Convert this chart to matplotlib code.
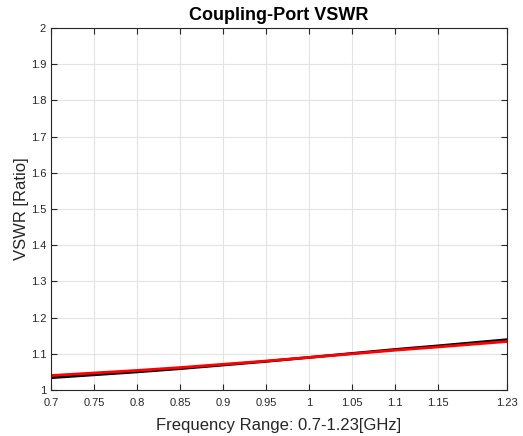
import matplotlib
matplotlib.use("Agg")
import matplotlib.pyplot as plt

plt.rcParams['font.family'] = ['Liberation Sans', 'DejaVu Sans']

freq = [0.7, 0.75, 0.8, 0.85, 0.9, 0.95, 1.0, 1.05, 1.1, 1.15, 1.23]
vswr_black = [1.034, 1.042, 1.050, 1.059, 1.069, 1.079, 1.090, 1.101, 1.112, 1.122, 1.139]
vswr_red = [1.040, 1.047, 1.054, 1.062, 1.071, 1.080, 1.090, 1.100, 1.110, 1.119, 1.134]
xticks = [0.7, 0.75, 0.8, 0.85, 0.9, 0.95, 1.0, 1.05, 1.1, 1.15, 1.23]
xticklabels = ['0.7', '0.75', '0.8', '0.85', '0.9', '0.95', '1', '1.05', '1.1', '1.15', '1.23']
yticks = [1, 1.1, 1.2, 1.3, 1.4, 1.5, 1.6, 1.7, 1.8, 1.9, 2]
yticklabels = ['1', '1.1', '1.2', '1.3', '1.4', '1.5', '1.6', '1.7', '1.8', '1.9', '2']

fig = plt.figure(figsize=(5.23, 4.36), dpi=100)
ax = fig.add_axes([0.0975, 0.1055, 0.8719, 0.8303])
ax.plot(freq, vswr_black, color='black', lw=2.0)
ax.plot(freq, vswr_red, color='red', lw=2.0)
ax.set_xlim(0.7, 1.23)
ax.set_ylim(1, 2)
ax.set_xticks(xticks)
ax.set_xticklabels(xticklabels)
ax.set_yticks(yticks)
ax.set_yticklabels(yticklabels)
ax.grid(True, color='#e3e3e3', lw=0.8)
ax.tick_params(direction='in', top=True, right=True, labelsize=8, colors='#262626', length=4)
ax.tick_params(axis='x', pad=6)
for s in ax.spines.values():
    s.set_color('#262626')
    s.set_linewidth(0.8)
ax.set_xlabel('Frequency Range: 0.7-1.23[GHz]', fontsize=12, color='#262626', labelpad=7)
ax.set_ylabel('VSWR [Ratio]', fontsize=12, color='#262626', labelpad=1)
ax.set_title('Coupling-Port VSWR', fontsize=13, fontweight='bold', pad=6)
fig.savefig('out.png', dpi=100)
